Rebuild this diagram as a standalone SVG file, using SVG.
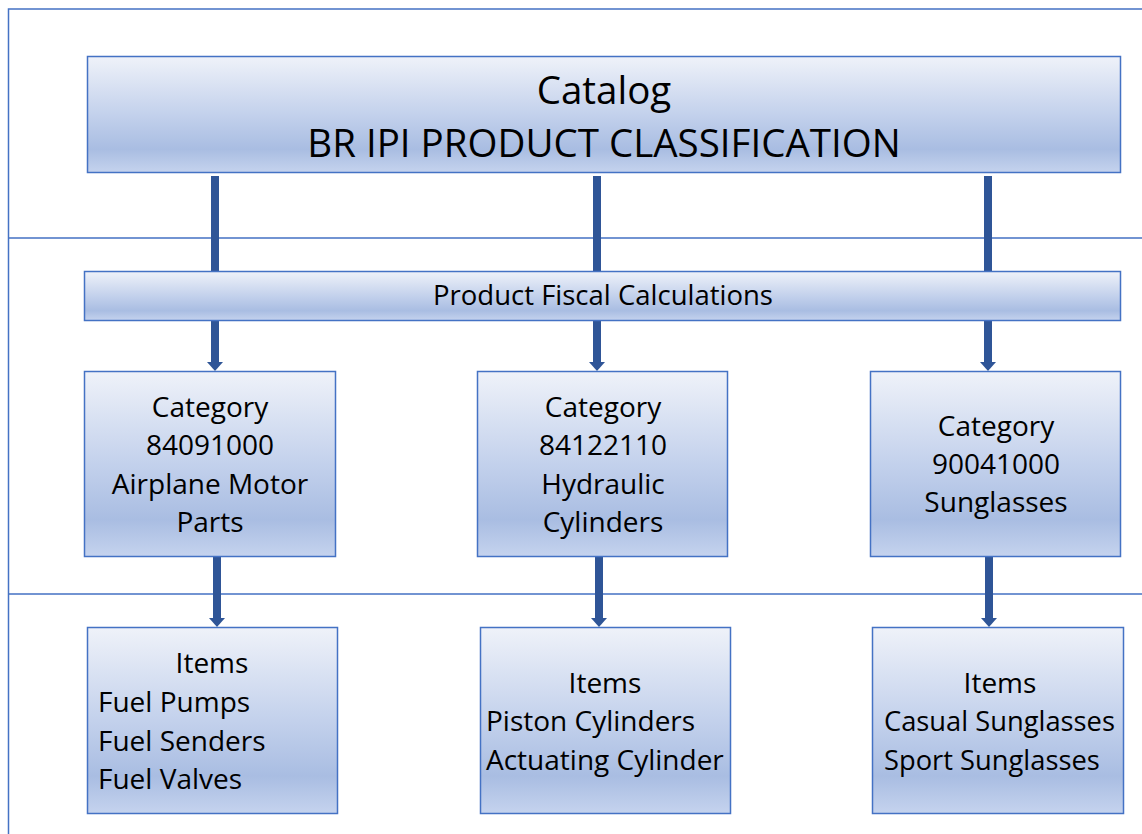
<svg xmlns="http://www.w3.org/2000/svg" width="1142" height="834" viewBox="0 0 1142 834">
<defs>
<linearGradient id="g" x1="0" y1="0" x2="0" y2="1">
<stop offset="0" stop-color="#eff2f9"/>
<stop offset="0.5" stop-color="#c3d1ec"/>
<stop offset="0.8" stop-color="#a9bde2"/>
<stop offset="1" stop-color="#c5d3ee"/>
</linearGradient>
<marker id="ah" viewBox="0 0 9 16" refX="1" refY="8" markerWidth="9" markerHeight="16" markerUnits="userSpaceOnUse" orient="auto">
<path d="M0,0 L9,8 L0,16 Z" fill="#2f5597"/>
</marker>
<style>
.frame{fill:none;stroke:#4472c4;stroke-width:1.5}
.box{fill:url(#g);stroke:#4472c4;stroke-width:1.5}
.t{font-family:"Open Sans","Noto Sans",sans-serif;fill:#000}
.c{text-anchor:middle}
.conn line{stroke:#2f5597;stroke-width:8}
</style>
</defs>
<rect width="1142" height="834" fill="#fff"/>
<g id="frame">
<path class="frame" d="M1142,9 H8.5 V834 M8.5,238 H1142 M8.5,594 H1142"/>
</g>
<g id="connectors" class="conn">
<line x1="215" y1="176" x2="215" y2="271"/>
<line x1="597" y1="176" x2="597" y2="271"/>
<line x1="988" y1="176" x2="988" y2="271"/>
<line x1="215" y1="321" x2="215" y2="363" marker-end="url(#ah)"/>
<line x1="597" y1="321" x2="597" y2="363" marker-end="url(#ah)"/>
<line x1="988" y1="321" x2="988" y2="363" marker-end="url(#ah)"/>
<line x1="217" y1="557" x2="217" y2="619" marker-end="url(#ah)"/>
<line x1="599" y1="557" x2="599" y2="619" marker-end="url(#ah)"/>
<line x1="989" y1="557" x2="989" y2="619" marker-end="url(#ah)"/>
</g>
<g id="catalog">
<rect class="box" x="87.5" y="56.5" width="1033" height="116"/>
<text class="t c" x="604" y="104" font-size="38.5">Catalog</text>
<text class="t c" x="604" y="157" font-size="38.5">BR IPI PRODUCT CLASSIFICATION</text>
</g>
<g id="fiscal">
<rect class="box" x="84.5" y="271.5" width="1036" height="49"/>
<text class="t c" x="603" y="305" font-size="27.5">Product Fiscal Calculations</text>
</g>
<g id="cat1">
<rect class="box" x="84.5" y="371.5" width="251" height="185"/>
<text class="t c" font-size="28"><tspan x="210" y="417">Category</tspan><tspan x="210" y="455">84091000</tspan><tspan x="210" y="494">Airplane Motor</tspan><tspan x="210" y="532">Parts</tspan></text>
</g>
<g id="cat2">
<rect class="box" x="477.5" y="371.5" width="250" height="185"/>
<text class="t c" font-size="28"><tspan x="603" y="417">Category</tspan><tspan x="603" y="455">84122110</tspan><tspan x="603" y="494">Hydraulic</tspan><tspan x="603" y="532">Cylinders</tspan></text>
</g>
<g id="cat3">
<rect class="box" x="870.5" y="371.5" width="250" height="185"/>
<text class="t c" font-size="28"><tspan x="996" y="436">Category</tspan><tspan x="996" y="474">90041000</tspan><tspan x="996" y="512">Sunglasses</tspan></text>
</g>
<g id="items1">
<rect class="box" x="87.5" y="627.5" width="250" height="186"/>
<text class="t c" x="212" y="673" font-size="28">Items</text>
<text class="t" font-size="28"><tspan x="98" y="712">Fuel Pumps</tspan><tspan x="98" y="751">Fuel Senders</tspan><tspan x="98" y="789">Fuel Valves</tspan></text>
</g>
<g id="items2">
<rect class="box" x="480.5" y="627.5" width="250" height="186"/>
<text class="t c" x="605" y="693" font-size="28">Items</text>
<text class="t" font-size="28"><tspan x="486" y="731">Piston Cylinders</tspan><tspan x="486" y="770">Actuating Cylinder</tspan></text>
</g>
<g id="items3">
<rect class="box" x="872.5" y="627.5" width="251" height="186"/>
<text class="t c" x="1000" y="693" font-size="28">Items</text>
<text class="t" font-size="27.3"><tspan x="884" y="731">Casual Sunglasses</tspan><tspan x="884" y="770">Sport Sunglasses</tspan></text>
</g>
</svg>
